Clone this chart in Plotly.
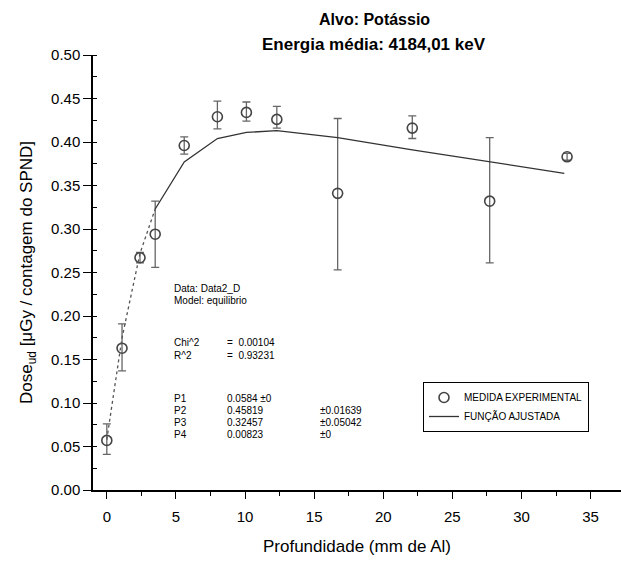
import plotly.graph_objects as go

# Experimental data
prof = [0.0, 1.1, 2.4, 3.5, 5.6, 8.0, 10.1, 12.3, 16.7, 22.1, 27.7, 33.3]
dose = [0.057, 0.163, 0.267, 0.294, 0.396, 0.429, 0.434, 0.426, 0.341, 0.416, 0.332, 0.383]
err_plus = [0.019, 0.028, 0.006, 0.038, 0.010, 0.018, 0.012, 0.015, 0.086, 0.014, 0.073, 0.004]
err_minus = [0.016, 0.026, 0.006, 0.038, 0.010, 0.014, 0.010, 0.010, 0.088, 0.012, 0.071, 0.004]

# Fitted curve
fit_x = [0.0, 0.6, 1.1, 2.4, 3.5, 5.6, 8.0, 10.1, 12.3, 16.7, 22.1, 27.7, 33.1]
fit_y = [0.058, 0.125, 0.175, 0.272, 0.323, 0.377, 0.404, 0.411, 0.413, 0.405, 0.391, 0.377, 0.364]

x_ticks = [0, 5, 10, 15, 20, 25, 30, 35]
y_ticks = [0.00, 0.05, 0.10, 0.15, 0.20, 0.25, 0.30, 0.35, 0.40, 0.45, 0.50]

fig = go.Figure()

fig.add_trace(go.Scatter(
    x=prof, y=dose, mode="markers",
    marker=dict(symbol="circle-open", size=10, color="#444444", line=dict(width=1.6)),
    error_y=dict(type="data", array=err_plus, arrayminus=err_minus,
                 color="#666666", thickness=1.3, width=4),
    name="MEDIDA EXPERIMENTAL"))
fig.add_trace(go.Scatter(
    x=fit_x[:5], y=fit_y[:5], mode="lines",
    line=dict(color="#555555", width=1.3, dash="dot"),
    showlegend=False, hoverinfo="skip"))
fig.add_trace(go.Scatter(
    x=fit_x[4:], y=fit_y[4:], mode="lines",
    line=dict(color="#333333", width=1.3),
    name="FUNÇÃO AJUSTADA"))

font_family = "Liberation Sans, Arial, sans-serif"

fig.update_layout(
    width=621, height=561,
    margin=dict(l=93, r=0, t=55, b=71),
    paper_bgcolor="white", plot_bgcolor="white",
    font=dict(family=font_family, color="black"),
    xaxis=dict(
        range=[-1, 37.2], tickvals=x_ticks, ticktext=[str(v) for v in x_ticks],
        showgrid=False, zeroline=False, showline=True, linecolor="black", linewidth=1.5,
        ticks="outside", ticklen=7, tickwidth=1.3, tickcolor="black",
        minor=dict(dtick=2.5, tick0=0, ticks="outside", ticklen=4, tickcolor="black"),
        tickfont=dict(size=15), ticklabelstandoff=5,
        title=dict(text="Profundidade (mm de Al)", font=dict(size=17), standoff=16),
    ),
    yaxis=dict(
        range=[0, 0.5], tickvals=y_ticks, ticktext=[f"{v:.2f}" for v in y_ticks],
        showgrid=False, zeroline=False, showline=True, linecolor="black", linewidth=1.5,
        ticks="outside", ticklen=8, tickwidth=1.3, tickcolor="black",
        minor=dict(dtick=0.025, tick0=0, ticks="inside", ticklen=4, tickcolor="black"),
        tickfont=dict(size=15),
        title=dict(text="Dose<sub>ud</sub> [μGy / contagem do SPND]", font=dict(size=17), standoff=14),
    ),
    legend=dict(
        x=(423 - 93) / 528, y=(490 - 382) / 435, xanchor="left", yanchor="top",
        bordercolor="black", borderwidth=1, bgcolor="white",
        font=dict(size=10, family=font_family), itemwidth=30,
        tracegroupgap=0,
    ),
)

# Title
fig.add_annotation(x=(374 - 93) / 528, y=1 + (55 - 19) / 435, xref="x domain", yref="y domain",
                   text="<b>Alvo: Potássio</b>", showarrow=False, font=dict(size=16),
                   xanchor="center", yanchor="middle")
fig.add_annotation(x=(374 - 93) / 528, y=1 + (55 - 44) / 435, xref="x domain", yref="y domain",
                   text="<b>Energia média: 4184,01 keV</b>", showarrow=False, font=dict(size=17),
                   xanchor="center", yanchor="middle")

# Fit info box
info_rows = [
    (288, "Data: Data2_D", None, None),
    (300, "Model: equilibrio", None, None),
    (342, "Chi^2", "=  0.00104", None),
    (355, "R^2", "=  0.93231", None),
    (398, "P1", "0.0584 ±0", None),
    (410, "P2", "0.45819", "±0.01639"),
    (422, "P3", "0.32457", "±0.05042"),
    (434, "P4", "0.00823", "±0"),
]
for ypx, a, b, c in info_rows:
    yd = (490 - ypx) / 435
    fig.add_annotation(x=(172 - 93) / 528, y=yd, xref="x domain", yref="y domain", text=a,
                       showarrow=False, xanchor="left", yanchor="middle", font=dict(size=10))
    if b:
        fig.add_annotation(x=(225 - 93) / 528, y=yd, xref="x domain", yref="y domain", text=b,
                           showarrow=False, xanchor="left", yanchor="middle", font=dict(size=10))
    if c:
        fig.add_annotation(x=(318 - 93) / 528, y=yd, xref="x domain", yref="y domain", text=c,
                           showarrow=False, xanchor="left", yanchor="middle", font=dict(size=10))

fig.write_html("out.html")
